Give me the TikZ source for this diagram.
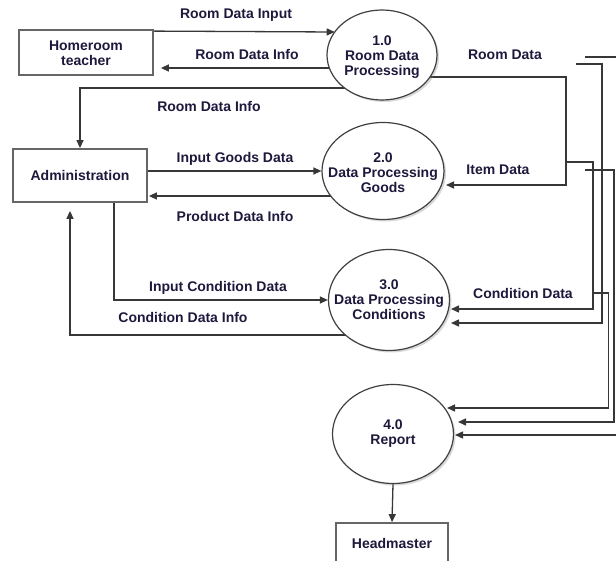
\documentclass[tikz,border=0pt]{standalone}
\usepackage{fontspec}
\setmainfont{Liberation Sans}
\usetikzlibrary{arrows.meta,shapes.geometric,calc,shadows}
\pgfdeclarelayer{bg}
\pgfsetlayers{bg,main}
\definecolor{txtc}{RGB}{30,25,60}
\definecolor{linec}{RGB}{55,55,55}
\begin{document}
\begin{tikzpicture}[x=1pt,y=-1pt,
  txt/.style={font=\bfseries\fontsize{14}{15}\selectfont, text=txtc, inner sep=0pt, align=center},
  proc/.style={ellipse, draw=black!75, line width=1.2pt, fill=white, inner sep=0pt,
    drop shadow={opacity=0.3, shadow xshift=2pt, shadow yshift=-2pt}},
  ent/.style={rectangle, draw=black!60, line width=1.8pt, fill=white, inner sep=0pt},
  flow/.style={draw=linec, line width=1.3pt, -{Triangle[length=8pt,width=7pt]}},
  link/.style={draw=linec, line width=1.3pt}]
\useasboundingbox (0,0) rectangle (616,561);
\clip (0,0) rectangle (616,561);

% external entities
\node[ent, minimum width=134pt, minimum height=45pt] (hm) at (86,52.5) {};
\node[txt] (hmt) at (86,53) {Homeroom\\teacher};
\node[ent, minimum width=134pt, minimum height=53pt] (adm) at (80,175.5) {};
\node[txt] (admt) at (adm) {Administration};
\node[ent, minimum width=112pt, minimum height=60pt] (hdm) at (392,553) {};
\node[txt] (hdmt) at (392,543) {Headmaster};

% processes
\node[proc, minimum width=110pt, minimum height=90pt] (c1) at (382,55) {};
\node[txt] (c1t) at (382,57) {1.0\\Room Data\\Processing};
\node[proc, minimum width=122pt, minimum height=97pt] (c2) at (383,171) {};
\node[txt] (c2t) at (383,173) {2.0\\Data Processing\\Goods};
\node[proc, minimum width=121pt, minimum height=101pt] (c3) at (389,300) {};
\node[txt] (c3t) at (389,300) {3.0\\Data Processing\\Conditions};
\node[proc, minimum width=121pt, minimum height=99pt] (c4) at (393,434) {};
\node[txt] (c4t) at (393,434) {4.0\\Report};

% labels
\node[txt] (l1) at (236,15) {Room Data Input};
\node[txt] (l2) at (247,54) {Room Data Info};
\node[txt] (l3) at (209,106) {Room Data Info};
\node[txt] (l4) at (235,159) {Input Goods Data};
\node[txt] (l5) at (235,216) {Product Data Info};
\node[txt] (l6) at (218,288) {Input Condition Data};
\node[txt] (l7) at (183,317) {Condition Data Info};
\node[txt] (l8) at (505,55) {Room Data};
\node[txt] (l9) at (498,170) {Item Data};
\node[txt] (l10) at (523,293) {Condition Data};

% coordinates
\coordinate (a1) at (334.7,32);
\coordinate (i1) at (446,185);
\coordinate (ra) at (585,57);
\coordinate (raE) at (625,57);
\coordinate (b0) at (576,64);
\coordinate (b1) at (451,323);
\coordinate (cc0) at (566,162);
\coordinate (cc1) at (451,309);
\coordinate (d0) at (585,170);
\coordinate (d1) at (458,422);
\coordinate (e0) at (593,293);
\coordinate (e1) at (447,408);
\coordinate (f0) at (625,435);
\coordinate (f1) at (455,435);

\begin{pgfonlayer}{bg}
\draw[flow] ($(hm.north east)+(0,2)$) -- (a1);
\draw[flow] (c1.center |- 0,68) -- ($(hm.east |- 0,68)+(7,0)$);
\draw[flow] (c1.center |- 0,88) -| (adm.north);
\draw[flow] (adm.east |- c2.west) -- (c2.west);
\draw[flow] (c2.center |- 0,196) -- ($(adm.east |- 0,196)+(1,0)$);
\draw[flow] ($(adm.south)+(34,0)$) |- (c3.west);
\draw[flow] (c3.center |- 0,335) -| ($(adm.south)+(-10,8)$);
\draw[flow] (c1.center |- 0,77) -| (566,185) -- (i1);
\draw[flow] (c4.south) -- (hdm.north);
% right side data lines
\draw[link] (ra) -- (raE);
\draw[flow] (b0) -- (602,64) -- (602,323) -- (b1);
\draw[flow] (cc0) -- (593,162) -- (593,309) -- (cc1);
\draw[flow] (d0) -- (614,170) -- (614,422) -- (d1);
\draw[flow] (e0) -- (608.5,293) -- (608.5,408) -- (e1);
\draw[flow] (f0) -- (f1);
\end{pgfonlayer}
\end{tikzpicture}
\end{document}
